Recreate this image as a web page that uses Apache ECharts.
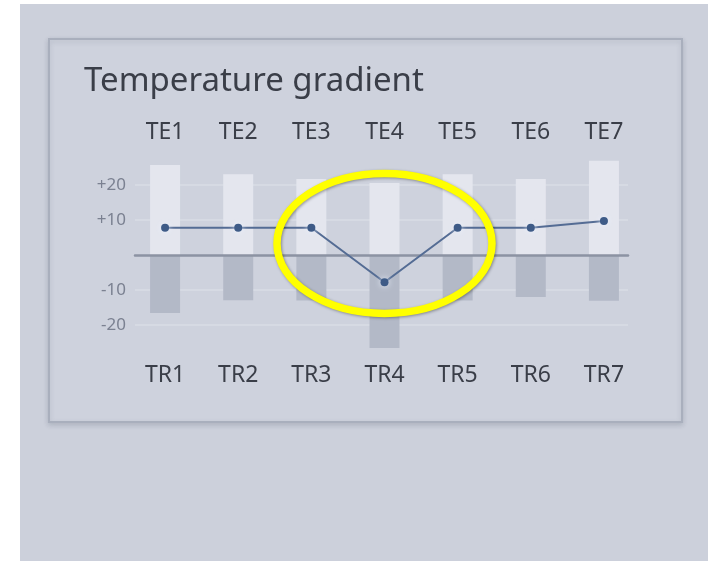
<!DOCTYPE html>
<html>
<head>
<meta charset="utf-8">
<script src="https://cdn.jsdelivr.net/npm/echarts@6/dist/echarts.min.js"></script>
<style>
html,body{margin:0;padding:0;background:#ffffff;}
#chart{width:708px;height:561px;}
</style>
</head>
<body>
<div id="chart"></div>
<script>
// ---- data ----
const titleText = 'Temperature gradient';
const topCategories = ['TE1', 'TE2', 'TE3', 'TE4', 'TE5', 'TE6', 'TE7'];
const bottomCategories = ['TR1', 'TR2', 'TR3', 'TR4', 'TR5', 'TR6', 'TR7'];
const upperValues = [25.7, 23.1, 21.7, 20.6, 23.1, 21.7, 26.9];
const lowerValues = [-16.6, -12.9, -13.0, -26.6, -13.0, -12.0, -13.1];
const gradientValues = [7.8, 7.8, 7.8, -7.8, 7.8, 7.8, 9.7];
const yTickValues = [-20, -10, 10, 20];
const yMin = -30, yMax = 30, yStep = 10;
const highlightCategory = 'TE4';

const FONT = 'Noto Sans';
const chart = echarts.init(document.getElementById('chart'), null, {renderer: 'canvas'});

function yLabel(v) {
  if (yTickValues.indexOf(v) < 0) return '';
  return v > 0 ? '+' + v : String(v);
}

const gridLine = '#d9dce5';
const option = {
  animation: false,
  backgroundColor: 'transparent',
  title: {
    text: titleText,
    left: 79, top: 60,
    textStyle: {fontFamily: FONT, fontSize: 33, fontWeight: 'normal', color: '#3a3e48'}
  },
  grid: [
    {left: 135, right: 80, top: 150, height: 210},
    {left: 128.5, right: 67.5, top: 150, height: 210}
  ],
  xAxis: [
    {
      gridIndex: 0, type: 'category', data: topCategories, z: 5,
      axisLine: {show: true, onZero: true, lineStyle: {color: '#8c93a3', width: 2.5}},
      axisTick: {show: false}, axisLabel: {show: false}, splitLine: {show: false}
    },
    {
      gridIndex: 1, type: 'category', data: topCategories, position: 'top',
      axisLine: {show: false}, axisTick: {show: false}, splitLine: {show: false},
      axisLabel: {margin: 6, fontFamily: FONT, fontSize: 23, color: '#3a3e48'}
    },
    {
      gridIndex: 1, type: 'category', data: bottomCategories, position: 'bottom',
      axisLine: {show: false}, axisTick: {show: false}, splitLine: {show: false},
      axisLabel: {margin: 4, fontFamily: FONT, fontSize: 23, color: '#3a3e48'}
    }
  ],
  yAxis: [
    {
      gridIndex: 0, type: 'value', min: yMin, max: yMax, interval: yStep,
      axisLine: {show: false}, axisTick: {show: false},
      axisLabel: {margin: 9, fontFamily: FONT, fontSize: 17, color: '#7b8191', formatter: yLabel},
      splitLine: {show: true, lineStyle: {width: 1.5, color: ['rgba(0,0,0,0)', gridLine, gridLine, 'rgba(0,0,0,0)', gridLine, gridLine, 'rgba(0,0,0,0)']}}
    },
    {
      gridIndex: 1, type: 'value', min: yMin, max: yMax, interval: yStep,
      show: false
    }
  ],
  series: [
    {
      name: 'TE', type: 'bar', xAxisIndex: 1, yAxisIndex: 1,
      data: upperValues, barWidth: 30, barGap: '-100%',
      itemStyle: {color: '#e4e6ee'}
    },
    {
      name: 'TR', type: 'bar', xAxisIndex: 1, yAxisIndex: 1,
      data: lowerValues, barWidth: 30, barGap: '-100%',
      itemStyle: {color: '#b3b9c7'}
    },
    {
      name: 'gradient', type: 'line', xAxisIndex: 1, yAxisIndex: 1, z: 6,
      data: gradientValues, symbol: 'circle', symbolSize: 8,
      lineStyle: {color: '#546c94', width: 2},
      itemStyle: {color: '#3e5b87', shadowBlur: 6, shadowColor: 'rgba(235,242,255,0.95)'}
    }
  ],
  graphic: []
};
chart.setOption(option);

// annotation ellipse, positioned from the axes
const cx = chart.convertToPixel({xAxisIndex: 1}, highlightCategory);
const c1 = chart.convertToPixel({xAxisIndex: 1}, topCategories[0]);
const c2 = chart.convertToPixel({xAxisIndex: 1}, topCategories[1]);
const step = c2 - c1;
const cy = chart.convertToPixel({yAxisIndex: 1}, 3.3);
const unit = chart.convertToPixel({yAxisIndex: 1}, 0) - chart.convertToPixel({yAxisIndex: 1}, 1);

chart.setOption({
  graphic: [
    {type: 'rect', z: -10, silent: true, shape: {x: 20, y: 4, width: 688, height: 557},
      style: {fill: '#ccd0db'}},
    {type: 'rect', z: -9, silent: true, shape: {x: 49, y: 39, width: 633, height: 383},
      style: {fill: '#ced2dd', stroke: '#a9afbd', lineWidth: 2,
        shadowBlur: 5, shadowOffsetY: 2, shadowColor: 'rgba(60,70,90,0.18)'}},
    {type: 'ellipse', z: 100, silent: true,
      shape: {cx: cx, cy: cy, rx: step * 1.47, ry: unit * 20},
      style: {fill: 'none', stroke: '#ffff00', lineWidth: 7.5,
        shadowBlur: 3, shadowOffsetX: 1, shadowOffsetY: 1, shadowColor: 'rgba(0,0,0,0.35)'}}
  ]
});
</script>
</body>
</html>
